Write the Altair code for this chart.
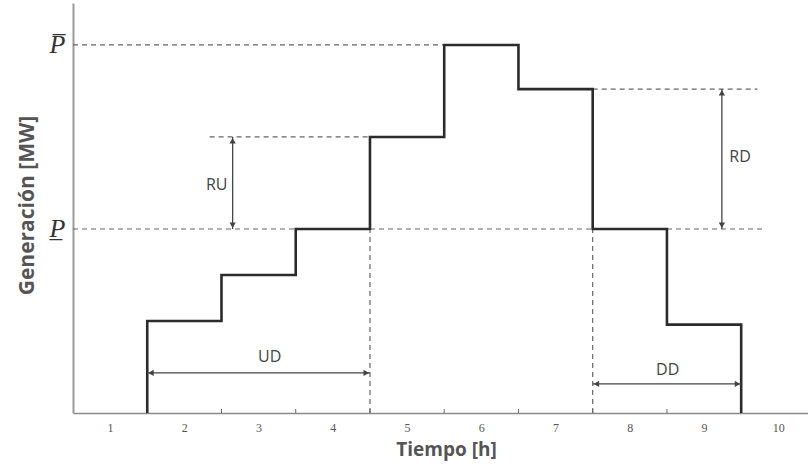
import altair as alt
import pandas as pd

# Hourly generation schedule of one unit (MW, arbitrary scale)
hours = [1, 2, 3, 4, 5, 6, 7, 8, 9, 10]
generation = [0, 25, 37.5, 50, 75, 100, 88, 50, 24, 0]
p_max = 100
p_min = 50

# Build the staircase path: each committed hour is a flat segment of one hour
path_x, path_y = [], []
on = [h for h, g in zip(hours, generation) if g > 0]
path_x.append(on[0] - 0.5)
path_y.append(0)
for h, g in zip(hours, generation):
    if g > 0:
        path_x += [h - 0.5, h + 0.5]
        path_y += [g, g]
path_x.append(on[-1] + 0.5)
path_y.append(0)
step_df = pd.DataFrame({"x": path_x, "y": path_y, "o": range(len(path_x))})

# Dashed guide lines (x, x2, y, y2)
guides = pd.DataFrame({
    "x":  [0.5, 0.5, 2.34, 7.5, 4.5, 7.5],
    "x2": [5.5, 9.82, 4.5, 9.72, 4.5, 7.5],
    "y":  [p_max, p_min, 75, 88, 0, 0],
    "y2": [p_max, p_min, 75, 88, p_min, p_min],
})

# Double-headed dimension arrows
arrows = pd.DataFrame({
    "x":  [2.65, 9.24, 1.5, 7.5],
    "x2": [2.65, 9.24, 4.5, 9.5],
    "y":  [p_min, p_min, 10.9, 7.9],
    "y2": [75, 88, 10.9, 7.9],
})
heads = pd.DataFrame({
    "x": [2.65, 2.65, 9.24, 9.24, 1.55, 4.45, 7.55, 9.45],
    "y": [74, 51, 87, 51, 10.9, 10.9, 7.9, 7.9],
    "shape": ["triangle-up", "triangle-down", "triangle-up", "triangle-down",
              "triangle-left", "triangle-right", "triangle-left", "triangle-right"],
})
labels = pd.DataFrame({
    "x": [2.58, 9.34, 3.15, 8.51],
    "y": [62, 69.6, 15.2, 11.7],
    "text": ["RU", "RD", "UD", "DD"],
    "align": ["right", "left", "center", "center"],
})
half_hours = pd.DataFrame({"x": [h + 0.5 for h in hours[:-1]]})

xs = alt.Scale(domain=[0.5, 10.4], nice=False, zero=False)
ys = alt.Scale(domain=[0, 111.4], nice=False)

label_expr = "datum.value == %d ? 'P\u0305' : 'P\u0332'" % p_max

base_axes = alt.Chart(step_df).mark_line(opacity=0).encode(
    x=alt.X("x:Q", scale=xs, title="Tiempo [h]",
            axis=alt.Axis(values=hours, labelExpr="datum.value", grid=False, ticks=False,
                          domainColor="#8a8a8a", domainWidth=1.5,
                          labelFont="Liberation Serif", labelFontSize=12, labelColor="#555",
                          labelPadding=9, titleFont="Open Sans", titleFontSize=19,
                          titleFontWeight="bold", titleColor="#555", titlePadding=7,
                          titleX=373)),
    y=alt.Y("y:Q", scale=ys, title="Generación [MW]",
            axis=alt.Axis(values=[p_min, p_max], labelExpr=label_expr, grid=False, ticks=False,
                          domainColor="#9a9a9a", domainWidth=2,
                          labelFont="Liberation Serif", labelFontStyle="italic",
                          labelFontSize=26, labelColor="#333", labelPadding=8,
                          labelBaseline="middle",
                          titleFont="Open Sans", titleFontSize=21, titleFontWeight="bold",
                          titleColor="#555", titlePadding=12, titleY=202)),
)

ticks = alt.Chart(half_hours).mark_rule(color="#666", strokeWidth=1).encode(
    x=alt.X("x:Q", scale=xs), y=alt.value(410), y2=alt.value(406)
)

dashed = alt.Chart(guides).mark_rule(color="#666", strokeWidth=1.2, strokeDash=[5, 4]).encode(
    x=alt.X("x:Q", scale=xs), x2="x2:Q", y=alt.Y("y:Q", scale=ys), y2="y2:Q"
)

step = alt.Chart(step_df).mark_line(color="#2b2b2b", strokeWidth=2.6, strokeJoin="miter").encode(
    x=alt.X("x:Q", scale=xs), y=alt.Y("y:Q", scale=ys), order="o:Q"
)

arrow_lines = alt.Chart(arrows).mark_rule(color="#444", strokeWidth=1.3).encode(
    x=alt.X("x:Q", scale=xs), x2="x2:Q", y=alt.Y("y:Q", scale=ys), y2="y2:Q"
)

arrow_heads = alt.Chart(heads).mark_point(filled=True, color="#444", size=40, opacity=1).encode(
    x=alt.X("x:Q", scale=xs), y=alt.Y("y:Q", scale=ys),
    shape=alt.Shape("shape:N", scale=None, legend=None)
)

texts = []
for al in ["right", "left", "center"]:
    texts.append(
        alt.Chart(labels[labels["align"] == al]).mark_text(
            font="Open Sans", fontSize=16, color="#444", align=al, baseline="middle"
        ).encode(x=alt.X("x:Q", scale=xs), y=alt.Y("y:Q", scale=ys), text="text:N")
    )

chart = alt.layer(base_axes, ticks, dashed, step, arrow_lines, arrow_heads, *texts).properties(
    width=735, height=410,
    padding={"left": 73, "top": 3, "right": 0, "bottom": 57},
    autosize="none",
    background="white",
).configure_view(stroke=None)

chart.save("out.html", embed_options={"renderer": "svg", "actions": False})
